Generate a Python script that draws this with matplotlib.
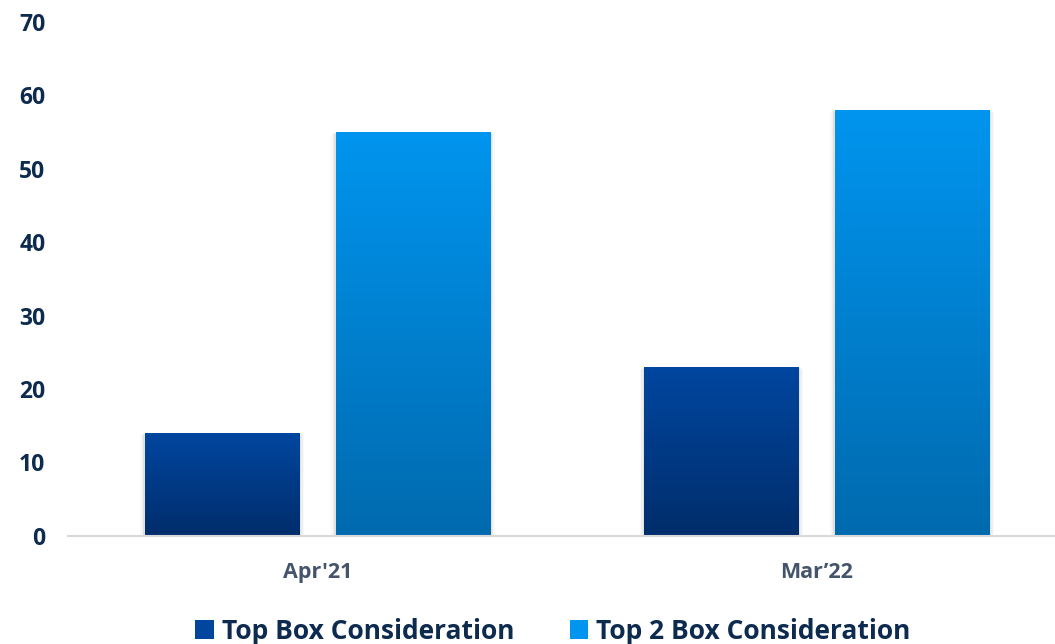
import numpy as np
import matplotlib
matplotlib.use('Agg')
import matplotlib.pyplot as plt
import matplotlib.patches as patches
from matplotlib.colors import LinearSegmentedColormap

# data
periods = ["Apr'21", "Mar\u201922"]
series_names = ['Top Box Consideration', 'Top 2 Box Consideration']
top_box = [14, 23]
top2_box = [55, 58]
yticks = [0, 10, 20, 30, 40, 50, 60, 70]

# gradient colours (top, bottom) for each series
grad = [('#00469f', '#002d6b'), ('#0095ef', '#006aae')]

plt.rcParams['font.family'] = ['Open Sans', 'DejaVu Sans']
plt.rcParams['font.weight'] = 'bold'

fig = plt.figure(figsize=(10.55, 6.44), dpi=100)
ax = fig.add_axes([0.064, 0.168, 0.936, 0.798])

x = np.arange(len(periods))
width = 0.31
offsets = [-0.191, 0.191]
grad_img = np.linspace(1, 0, 256).reshape(-1, 1)

for si, vals in enumerate([top_box, top2_box]):
    cmap = LinearSegmentedColormap.from_list('g%d' % si, [grad[si][1], grad[si][0]])
    bars = ax.bar(x + offsets[si], vals, width, color='none', zorder=3)
    for b in bars:
        bx, by = b.get_x(), b.get_y()
        bw, bh = b.get_width(), b.get_height()
        # soft shadow
        for k, a in enumerate([0.09, 0.06, 0.04]):
            sh = patches.Rectangle((bx - 0.003 * (k + 1), by - 0.2 * (k + 1)), bw + 0.006 * (k + 1),
                                   bh + 0.1 * (k + 1), facecolor='#606060', alpha=a,
                                   edgecolor='none', zorder=2)
            ax.add_patch(sh)
        ax.imshow(grad_img, cmap=cmap, extent=[bx, bx + bw, by, by + bh],
                  aspect='auto', zorder=3, vmin=0, vmax=1)

ax.set_xlim(-0.501, 1.477)
ax.set_ylim(0, 70)
ax.set_yticks(yticks)
ax.set_yticklabels([str(t) for t in yticks], fontsize=16.5, color='#0d2a4f', fontweight='bold')
ax.set_xticks(x)
ax.set_xticklabels(periods, fontsize=15.5, color='#44546a', fontweight='bold')
ax.tick_params(axis='both', length=0)
ax.tick_params(axis='y', pad=16)
ax.tick_params(axis='x', pad=19)
for s in ['top', 'right', 'left']:
    ax.spines[s].set_visible(False)
ax.spines['bottom'].set_color('#d9d9d9')
ax.spines['bottom'].set_linewidth(1.5)
ax.spines['bottom'].set_zorder(4)

handles = [patches.Patch(facecolor=grad[i][0], edgecolor='none', label=series_names[i]) for i in range(2)]
leg = fig.legend(handles=handles, loc='center', bbox_to_anchor=(0.524, 0.02), ncol=2, frameon=False,
                 fontsize=19, handlelength=0.7, handleheight=0.7, handletextpad=0.3, columnspacing=2.1)
for t in leg.get_texts():
    t.set_color('#0d2a4f')
    t.set_fontweight('bold')

plt.savefig('out.png', dpi=100)
